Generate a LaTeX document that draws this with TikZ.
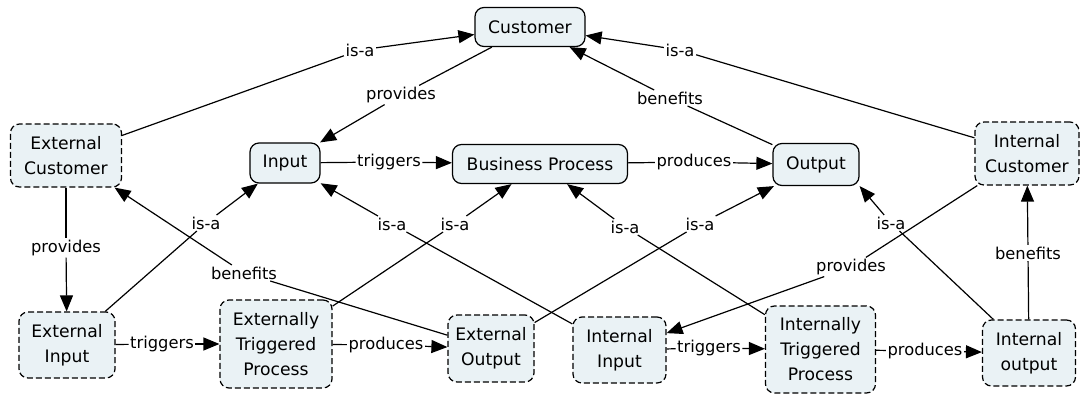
\documentclass[tikz,border=0pt]{standalone}
\usepackage{fontspec}
\setmainfont{DejaVu Sans}
\usetikzlibrary{arrows.meta}
\definecolor{boxfill}{HTML}{EAF2F5}
\begin{document}
\begin{tikzpicture}[x=1pt,y=-1pt,
  concept/.style={draw, line width=1.2pt, rounded corners=9pt, fill=boxfill, align=center,
    font=\fontsize{17.2}{25}\selectfont, inner sep=0pt},
  dconcept/.style={concept, dash pattern=on 6pt off 3pt},
  lbl/.style={font=\fontsize{16.3}{20}\selectfont, inner sep=1.5pt},
  link/.style={line width=1.2pt},
  arr/.style={line width=1.2pt, -{Triangle[length=16pt,width=13pt]}}]
\useasboundingbox (0,0) rectangle (1080,396);

% concepts
\node[concept, minimum width=110pt, minimum height=39pt] (cust) at (530,27) {Customer};
\node[concept, minimum width=70pt, minimum height=40pt] (input) at (285,163) {Input};
\node[concept, minimum width=175pt, minimum height=39pt] (bp) at (540,164) {Business Process};
\node[concept, minimum width=86pt, minimum height=42pt] (output) at (816,164.5) {Output};
\node[dconcept, minimum width=111pt, minimum height=63pt] (extcust) at (66,155.5) {External\\Customer};
\node[dconcept, minimum width=104pt, minimum height=63pt] (intcust) at (1027,153.5) {Internal\\Customer};
\node[dconcept, minimum width=96pt, minimum height=66pt] (extin) at (67,345) {External\\Input};
\node[dconcept, minimum width=112pt, minimum height=88pt] (etp) at (276,344) {Externally\\Triggered\\Process};
\node[dconcept, minimum width=86pt, minimum height=67pt] (extout) at (491,348.5) {External\\Output};
\node[dconcept, minimum width=93pt, minimum height=66pt] (intin) at (619.5,350) {Internal\\Input};
\node[dconcept, minimum width=110pt, minimum height=87pt] (itp) at (820.5,349.5) {Internally\\Triggered\\Process};
\node[dconcept, minimum width=93pt, minimum height=66pt] (intout) at (1029,353) {Internal\\output};

% linking phrases
\node[lbl] (l1) at (360,50) {is-a};
\node[lbl] (l2) at (401,95) {provides};
\node[lbl] (l3) at (389,162) {triggers};
\node[lbl] (l4) at (694,162) {produces};
\node[lbl] (l5) at (670,98) {benefits};
\node[lbl] (l6) at (680,50) {is-a};
\node[lbl] (l7) at (66,248) {provides};
\node[lbl] (l8) at (206,223) {is-a};
\node[lbl] (l9) at (244,273) {benefits};
\node[lbl] (l10) at (455,224) {is-a};
\node[lbl] (l11) at (392,224) {is-a};
\node[lbl] (l12) at (625,227) {is-a};
\node[lbl] (l13) at (700,224) {is-a};
\node[lbl] (l14) at (891,223) {is-a};
\node[lbl] (l15) at (851,267) {provides};
\node[lbl] (l16) at (1028,253) {benefits};
\node[lbl] (l17) at (162,344) {triggers};
\node[lbl] (l18) at (386,345) {produces};
\node[lbl] (l19) at (709,348) {triggers};
\node[lbl] (l20) at (925,351) {produces};

% connections
\draw[link] (extcust) -- (l1); \draw[arr] (l1) -- (cust);
\draw[link] (cust) -- (l2); \draw[arr] (l2) -- (input);
\draw[link] (input) -- (l3); \draw[arr] (l3) -- (bp);
\draw[link] (bp) -- (l4); \draw[arr] (l4) -- (output);
\draw[link] (output) -- (l5); \draw[arr] (l5) -- (cust);
\draw[link] (intcust) -- (l6); \draw[arr] (l6) -- (cust);
\draw[link] (extcust) -- (l7); \draw[arr] (l7) -- (extin);
\draw[link] (extin) -- (l8); \draw[arr] (l8) -- (input);
\draw[link] (extout) -- (l9); \draw[arr] (l9) -- (extcust);
\draw[link] (etp) -- (l10); \draw[arr] (l10) -- (bp);
\draw[link] (intin) -- (l11); \draw[arr] (l11) -- (input);
\draw[link] (itp) -- (l12); \draw[arr] (l12) -- (bp);
\draw[link] (extout) -- (l13); \draw[arr] (l13) -- (output);
\draw[link] (intout) -- (l14); \draw[arr] (l14) -- (output.south east);
\draw[link] (intcust) -- (l15); \draw[arr] (l15) -- (intin);
\draw[link] (intout) -- (l16); \draw[arr] (l16) -- (intcust);
\draw[link] (extin) -- (l17); \draw[arr] (l17) -- (etp);
\draw[link] (etp) -- (l18); \draw[arr] (l18) -- (extout);
\draw[link] (intin) -- (l19); \draw[arr] (l19) -- (itp);
\draw[link] (itp) -- (l20); \draw[arr] (l20) -- (intout);
\end{tikzpicture}
\end{document}
